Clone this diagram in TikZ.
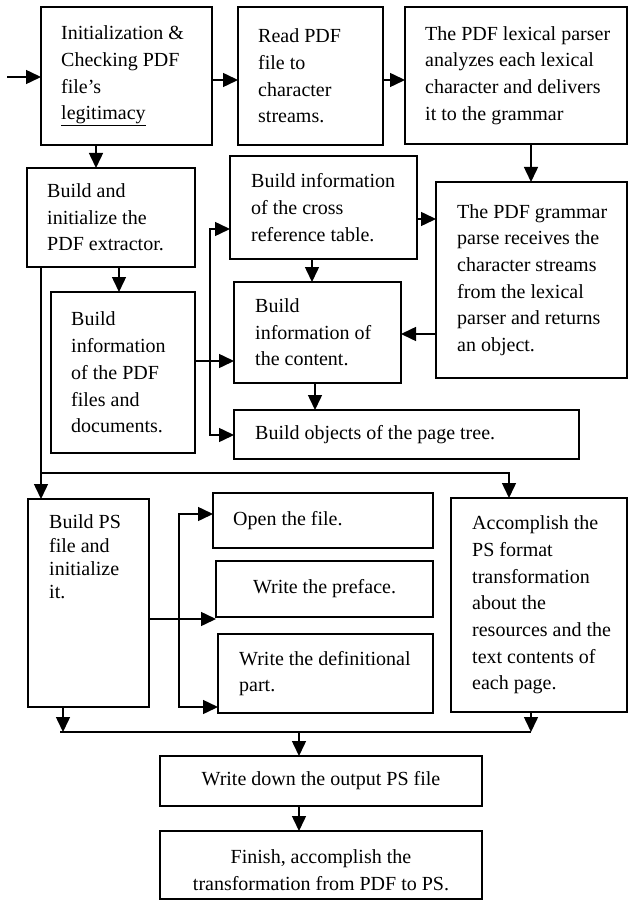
\documentclass[tikz,border=0pt]{standalone}
\usepackage{fontspec}
\setmainfont{Liberation Serif}
\usetikzlibrary{arrows.meta,fit}

\tikzset{
  box/.style={draw, line width=2pt, inner sep=0pt, outer sep=0pt},
  txt/.style={align=left, inner sep=0pt, anchor=west, font=\fontsize{20pt}{26.7pt}\selectfont},
  ctxt/.style={align=center, inner sep=0pt, font=\fontsize{20pt}{26.7pt}\selectfont},
  link/.style={line width=1.5pt},
  arr/.style={link, -{Triangle[length=15pt,width=14pt]}},
}

% a framed box given by its two corners (x1,y1) and (x2,y2)
\newcommand\mkbox[5]{%
  \coordinate (#1-nw) at (#2,#3);
  \coordinate (#1-se) at (#4,#5);
  \node[box, fit=(#1-nw)(#1-se)] (#1) {};}

\begin{document}
\begin{tikzpicture}[x=1pt,y=-1pt]
\useasboundingbox (0,0) rectangle (629,901);

% ---- boxes
\mkbox{A}{41}{7}{212}{145}
\mkbox{B}{238}{7}{383}{145}
\mkbox{E}{405}{7}{627}{144}
\mkbox{C}{27}{168}{195}{267}
\mkbox{D}{230}{156}{417}{259}
\mkbox{F}{436}{182}{627}{378}
\mkbox{G}{51}{292}{195}{453}
\mkbox{H}{234}{282}{401}{383}
\mkbox{I}{234}{410}{579}{459}
\mkbox{K}{28}{499}{149}{707}
\mkbox{L}{213}{493}{433}{548}
\mkbox{M}{216}{561}{433}{617}
\mkbox{N}{218}{634}{433}{713}
\mkbox{J}{451}{498}{627}{712}
\mkbox{O}{160}{756}{482}{806}
\mkbox{P}{160}{831}{482}{899}

% ---- texts
\node[txt] (A-t) at ([xshift=20pt]A.west) {Initialization \&\\Checking PDF\\file’s\\\underline{legitimacy}};
\node[txt] (B-t) at ([xshift=20pt]B.west) {Read PDF\\file to\\character\\streams.};
\node[txt] (E-t) at ([xshift=20pt]E.west) {The PDF lexical parser\\analyzes each lexical\\character and delivers\\it to the grammar};
\node[txt] (C-t) at ([xshift=20pt]C.west) {Build and\\initialize the\\PDF extractor.};
\node[txt] (D-t) at ([xshift=21pt]D.west) {Build information\\of the cross\\reference table.};
\node[txt] (F-t) at ([xshift=21pt]F.west) {The PDF grammar\\parse receives the\\character streams\\from the lexical\\parser and returns\\an object.};
\node[txt] (G-t) at ([xshift=20pt]G.west) {Build\\information\\of the PDF\\files and\\documents.};
\node[txt] (H-t) at ([xshift=21pt]H.west) {Build\\information of\\the content.};
\node[txt] (I-t) at ([xshift=21pt]I.west) {Build objects of the page tree.};
\node[txt, font=\fontsize{20pt}{23.3pt}\selectfont] (K-t) at ([xshift=21pt,yshift=46pt]K.west) {Build PS\\file and\\initialize\\it.};
\node[txt] (L-t) at ([xshift=20pt]L.west) {Open the file.};
\node[ctxt] (M-t) at (M.center) {Write the preface.};
\node[txt] (N-t) at ([xshift=21pt]N.west) {Write the definitional\\part.};
\node[txt] (J-t) at ([xshift=21pt]J.west) {Accomplish the\\PS format\\transformation\\about the\\resources and the\\text contents of\\each page.};
\node[ctxt] (O-t) at (O.center) {Write down the output PS file};
\node[ctxt] (P-t) at ([yshift=-5pt]P.center) {Finish, accomplish the\\transformation from PDF to PS.};

% ---- guide coordinates for the connectors
\coordinate (in)   at (7,77);
\coordinate (yAB)  at (0,80);
\coordinate (xEF)  at (531,0);
\coordinate (xAC)  at (96,0);
\coordinate (xCG)  at (119,0);
\coordinate (yGH)  at (0,361);
\coordinate (b1)   at (210,229);
\coordinate (b2)   at (210,435);
\coordinate (yDF)  at (0,219);
\coordinate (xDH)  at (312,0);
\coordinate (yFH)  at (0,334);
\coordinate (xHI)  at (315,0);
\coordinate (xL)   at (41,0);
\coordinate (t1)   at (41,473);
\coordinate (t2)   at (509,473);
\coordinate (yKM)  at (0,619);
\coordinate (k1)   at (179,514);
\coordinate (k2)   at (179,707);
\coordinate (xK)   at (63,0);
\coordinate (m1)   at (60,732);
\coordinate (m2)   at (531,732);
\coordinate (xO)   at (299,0);

% ---- extraction stage
\draw[arr] (in) -- (in -| A.west);
\draw[arr] (A.east |- yAB) -- (B.west |- yAB);
\draw[arr] (B.east |- yAB) -- (E.west |- yAB);
\draw[arr] (E.south -| xEF) -- (F.north -| xEF);
\draw[arr] (A.south -| xAC) -- (C.north -| xAC);
\draw[arr] (C.south -| xCG) -- (G.north -| xCG);
\draw[arr] (G.east |- yGH) -- (H.west |- yGH);
\draw[arr] (b2) -- (b1) -- (b1 -| D.west);
\draw[arr] (b1) -- (b2) -- (b2 -| I.west);
\draw[arr] (D.east |- yDF) -- (F.west |- yDF);
\draw[arr] (D.south -| xDH) -- (H.north -| xDH);
\draw[arr] (F.west |- yFH) -- (H.east |- yFH);
\draw[arr] (H.south -| xHI) -- (I.north -| xHI);

% ---- conversion stage
\draw[arr] (C.south -| xL) -- (K.north -| xL);
\draw[arr] (t1) -- (t2) -- (t2 |- J.north);
\draw[arr] (K.east |- yKM) -- (M.west |- yKM);
\draw[arr] (k2) -- (k1) -- (k1 -| L.west);
\draw[arr] (k1) -- (k2) -- (k2 -| N.west);

% ---- output stage
\draw[link] (m1) -- (m2);
\draw[arr] (K.south -| xK) -- (xK |- m1);
\draw[arr] (J.south -| m2) -- (m2);
\draw[arr] (xO |- m1) -- (O.north -| xO);
\draw[arr] (O.south -| xO) -- (P.north -| xO);
\end{tikzpicture}
\end{document}
